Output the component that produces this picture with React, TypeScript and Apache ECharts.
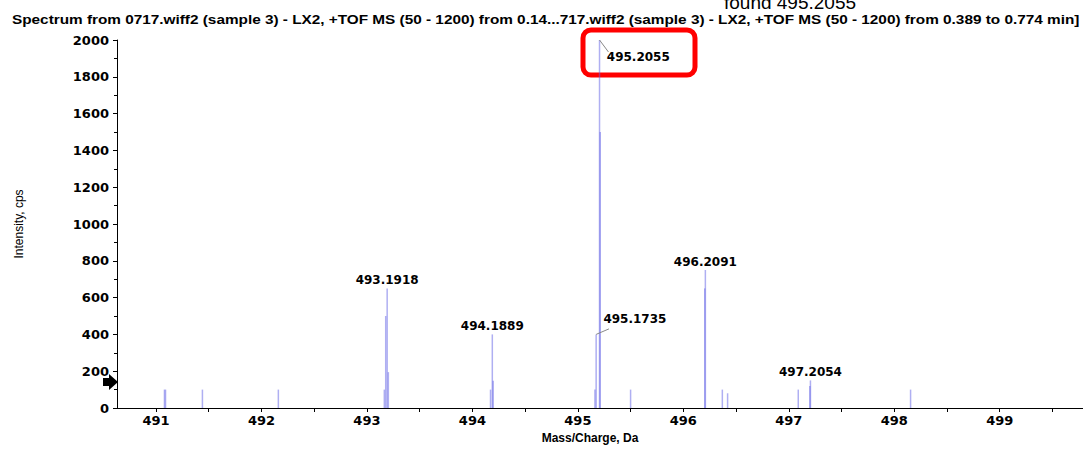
import React, { useEffect, useRef } from "react";
import * as echarts from "echarts";

const titleText =
  "Spectrum from 0717.wiff2 (sample 3) - LX2, +TOF MS (50 - 1200) from 0.14...717.wiff2 (sample 3) - LX2, +TOF MS (50 - 1200) from 0.389 to 0.774 min]";
const annotationText = "found 495.2055";
const xAxisName = "Mass/Charge, Da";
const yAxisName = "Intensity, cps";

const peakMz = [
  491.08, 491.09, 491.44, 492.16, 493.165, 493.178, 493.1918, 493.203, 494.172,
  494.1889, 494.197, 495.162, 495.1735, 495.2055, 495.212, 495.5, 496.203,
  496.2091, 496.37, 496.42, 497.09, 497.2, 497.2054, 498.155,
];
const peakIntensity = [
  100, 100, 100, 100, 100, 500, 650, 195, 100, 400, 148, 100, 400, 2000, 1500,
  100, 650, 750, 100, 80, 100, 120, 150, 100,
];

const labelledMz = [493.1918, 494.1889, 495.1735, 495.2055, 496.2091, 497.2054];

const xLabelValues = [491, 492, 493, 494, 495, 496, 497, 498, 499];
const xTickValues = [
  491, 491.5, 492, 492.5, 493, 493.5, 494, 494.5, 495, 495.5, 496, 496.5, 497,
  497.5, 498, 498.5, 499, 499.5,
];

// leader lines from peak tops to their displaced labels
const leaderLines = [
  [
    [495.2055, 2000],
    [495.29, 1935],
  ],
  [
    [495.1735, 400],
    [495.295, 430],
  ],
];

const tickFont = { fontFamily: "DejaVu Sans", fontWeight: "bold" as const, fontSize: 13, color: "#000" };

export default function App() {
  const ref = useRef<HTMLDivElement>(null);
  useEffect(() => {
    if (!ref.current) return;
    const chart = echarts.init(ref.current, null, { renderer: "svg" });

    const data = peakMz.map((mz, i) => {
      const item: any = { value: [mz, peakIntensity[i]] };
      if (labelledMz.includes(mz)) {
        let label: any = { show: true, position: "top", distance: 2 };
        if (mz === 495.2055) label = { show: true, position: [8, 11], align: "left", verticalAlign: "top" };
        if (mz === 495.1735) label = { show: true, position: [8, -21], align: "left", verticalAlign: "top" };
        item.label = label;
      }
      return item;
    });

    chart.setOption({
      animation: false,
      grid: { left: 117, right: 0, top: 40, bottom: 41, containLabel: false },
      xAxis: {
        type: "value",
        min: 490.63,
        max: 499.79,
        axisLine: { show: true, lineStyle: { color: "#000", width: 1 } },
        axisTick: { show: true, length: 4, customValues: xTickValues, lineStyle: { color: "#000" } },
        axisLabel: { ...tickFont, margin: 6, customValues: xLabelValues },
        splitLine: { show: false },
        name: xAxisName,
        nameLocation: "middle",
        nameGap: 23,
        nameTextStyle: {
          fontFamily: "Liberation Sans",
          fontWeight: "bold",
          fontSize: 12,
          color: "#000",
          padding: [0, 20, 0, 0],
        },
      },
      yAxis: {
        type: "value",
        min: 0,
        max: 2000,
        interval: 200,
        axisLine: { show: true, lineStyle: { color: "#000", width: 1 } },
        axisTick: { show: true, length: 4, lineStyle: { color: "#000" } },
        minorTick: { show: true, splitNumber: 2, length: 3, lineStyle: { color: "#000" } },
        axisLabel: { ...tickFont, margin: 8, formatter: (v: number) => String(v) },
        splitLine: { show: false },
        minorSplitLine: { show: false },
        name: yAxisName,
        nameLocation: "middle",
        nameGap: 92,
        nameRotate: 90,
        nameTextStyle: { fontFamily: "Liberation Sans", fontSize: 12, color: "#000" },
      },
      series: [
        {
          type: "bar",
          data,
          barWidth: 1.5,
          itemStyle: { color: "rgba(95, 95, 230, 0.5)" },
          label: {
            show: false,
            fontFamily: "DejaVu Sans",
            fontWeight: "bold",
            fontSize: 12,
            color: "#000",
            formatter: (p: any) => p.value[0].toFixed(4),
          },
          markLine: {
            silent: true,
            symbol: "none",
            label: { show: false },
            lineStyle: { color: "#888", width: 1, type: "solid" },
            data: leaderLines.map((seg) => [{ coord: seg[0] }, { coord: seg[1] }]),
          },
        },
      ],
      graphic: [
        {
          type: "text",
          x: 12,
          y: 19,
          scaleX: 1.18,
          style: {
            text: titleText,
            fontFamily: "Liberation Sans",
            fontWeight: "bold",
            fontSize: 13,
            fill: "#000",
            align: "left",
            verticalAlign: "middle",
          },
        },
        {
          type: "text",
          x: 790,
          y: 2,
          style: {
            text: annotationText,
            fontFamily: "Liberation Sans",
            fontSize: 19,
            fill: "#000",
            align: "center",
            verticalAlign: "middle",
          },
        },
        {
          type: "rect",
          shape: { x: 583, y: 30, width: 112, height: 45, r: 8 },
          style: { fill: "none", stroke: "#ff0000", lineWidth: 5 },
        },
        {
          type: "polygon",
          shape: {
            points: [
              [103, 378],
              [109, 378],
              [109, 374],
              [118, 382],
              [109, 390],
              [109, 386],
              [103, 386],
            ],
          },
          style: { fill: "#000" },
        },
      ],
    });
    return () => chart.dispose();
  }, []);
  return <div ref={ref} style={{ width: 1083, height: 449, position: "absolute", left: 0, top: 0 }} />;
}
